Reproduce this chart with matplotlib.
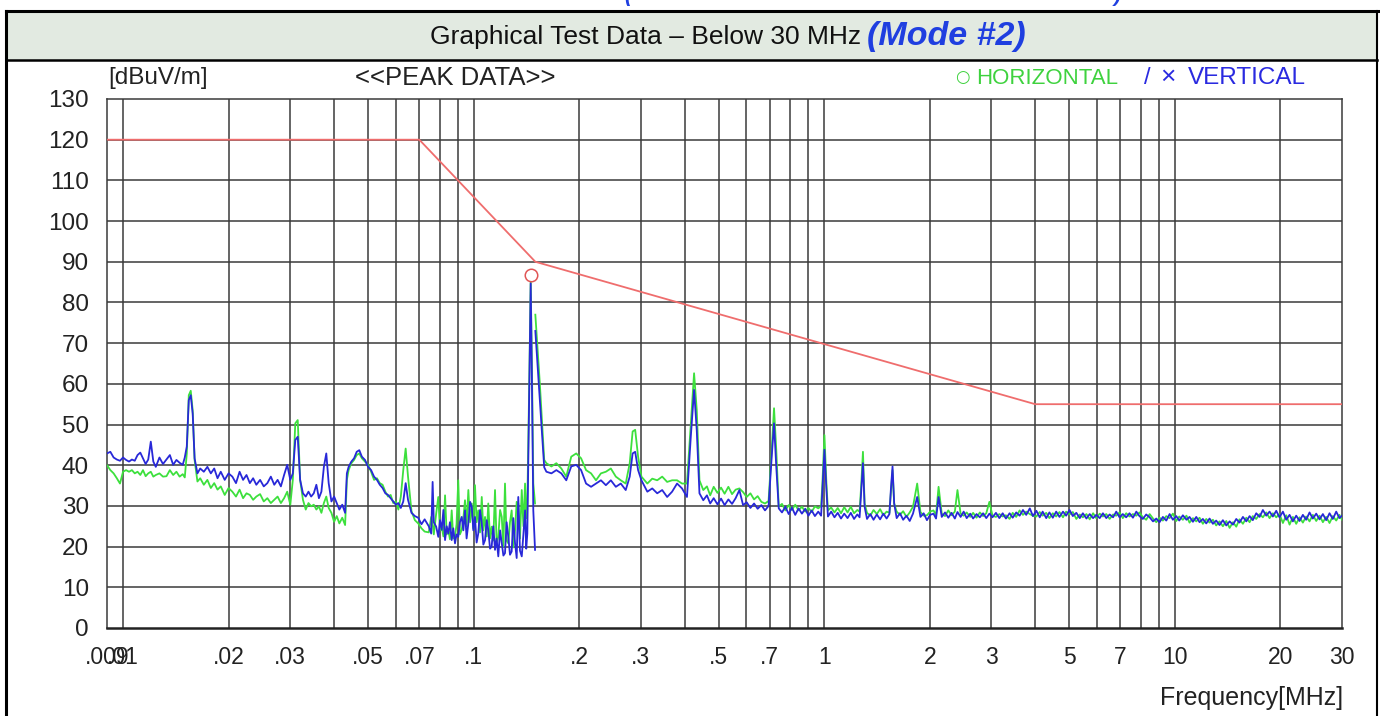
import matplotlib
matplotlib.use('Agg')
from matplotlib import pyplot as plt
from matplotlib.lines import Line2D
from matplotlib.patches import Rectangle

# ---- data (frequency in MHz, level in dBuV/m) ----

# band 9 kHz - 150 kHz
band_a_mhz = [0.0090, 0.0092, 0.0094, 0.0096, 0.0098, 0.0100, 0.0102, 0.0104, 0.0106, 0.0108,
              0.0110, 0.0112, 0.0114, 0.0116, 0.0118, 0.0120, 0.0122, 0.0124, 0.0127, 0.0130,
              0.0133, 0.0136, 0.0139, 0.0142, 0.0145, 0.0148, 0.0150, 0.0152, 0.0154, 0.0156,
              0.0158, 0.0160, 0.0163, 0.0166, 0.0170, 0.0174, 0.0178, 0.0182, 0.0186, 0.0190,
              0.0195, 0.0200, 0.0205, 0.0210, 0.0215, 0.0220, 0.0225, 0.0230, 0.0235, 0.0240,
              0.0246, 0.0252, 0.0258, 0.0264, 0.0270, 0.0276, 0.0282, 0.0288, 0.0294, 0.0300,
              0.0305, 0.0310, 0.0315, 0.0320, 0.0326, 0.0332, 0.0338, 0.0344, 0.0350, 0.0356,
              0.0362, 0.0368, 0.0374, 0.0380, 0.0386, 0.0393, 0.0400, 0.0407, 0.0414, 0.0422,
              0.0430, 0.0435, 0.0440, 0.0448, 0.0456, 0.0464, 0.0472, 0.0480, 0.0490, 0.0500,
              0.0510, 0.0520, 0.0530, 0.0540, 0.0550, 0.0560, 0.0570, 0.0580, 0.0590, 0.0600,
              0.0610, 0.0620, 0.0630, 0.0640, 0.0650, 0.0665, 0.0680, 0.0695, 0.0710, 0.0725,
              0.0745, 0.0757, 0.0764, 0.0770, 0.0782, 0.0793, 0.0802, 0.0811, 0.0820, 0.0829,
              0.0838, 0.0847, 0.0856, 0.0866, 0.0875, 0.0885, 0.0894, 0.0904, 0.0914, 0.0925,
              0.0935, 0.0945, 0.0955, 0.0966, 0.0977, 0.0988, 0.0998, 0.1009, 0.1020, 0.1031,
              0.1043, 0.1055, 0.1066, 0.1078, 0.1090, 0.1101, 0.1114, 0.1126, 0.1138, 0.1151,
              0.1163, 0.1176, 0.1190, 0.1203, 0.1216, 0.1229, 0.1242, 0.1256, 0.1270, 0.1284,
              0.1298, 0.1313, 0.1327, 0.1341, 0.1356, 0.1372, 0.1387, 0.1402, 0.1413, 0.1423,
              0.1442, 0.1455, 0.1467, 0.1480, 0.1497]
band_a_horiz = [40.0, 38.8, 38.0, 36.8, 35.5, 38.4, 38.8, 38.4, 38.8, 38.0,
                38.4, 37.6, 38.8, 37.3, 38.0, 38.4, 37.2, 37.6, 38.0, 37.2,
                37.3, 38.8, 37.6, 38.4, 37.2, 37.8, 37.0, 42.9, 57.2, 58.3,
                53.5, 41.3, 36.0, 36.8, 35.2, 36.4, 34.4, 35.6, 34.0, 34.8,
                32.7, 34.4, 33.5, 32.3, 34.0, 31.9, 33.1, 32.7, 31.5, 32.3,
                32.9, 31.1, 31.9, 30.7, 31.5, 32.3, 30.7, 31.9, 33.5, 30.3,
                36.4, 50.3, 51.1, 36.4, 31.5, 29.1, 30.7, 29.9, 30.3, 29.1,
                29.9, 28.3, 30.7, 32.3, 29.5, 28.3, 26.1, 27.5, 25.7, 27.1,
                25.3, 36.4, 38.8, 40.5, 41.3, 42.5, 42.9, 41.7, 40.9, 40.1,
                38.4, 36.4, 36.8, 35.6, 35.2, 33.5, 32.3, 32.7, 30.7, 31.1,
                29.1, 32.3, 38.8, 44.1, 37.2, 28.7, 26.5, 25.7, 24.5, 23.7,
                23.5, 27.3, 25.7, 23.0, 28.1, 32.2, 24.0, 24.9, 22.5, 32.6,
                23.0, 24.1, 21.8, 28.9, 22.0, 22.4, 25.5, 36.3, 23.0, 24.1,
                27.0, 31.4, 25.0, 33.9, 26.0, 30.6, 24.5, 35.1, 26.0, 28.9,
                23.5, 32.2, 24.0, 27.3, 22.5, 30.6, 22.0, 24.9, 21.5, 33.9,
                21.0, 22.4, 29.0, 27.3, 20.0, 35.5, 21.5, 20.8, 26.0, 28.9,
                19.8, 24.1, 31.0, 30.6, 22.0, 33.9, 25.0, 35.5, 27.0, 30.6,
                61.6, 85.1, 64.0, 35.5, 30.6]
band_a_vert = [42.9, 43.3, 41.9, 41.4, 41.1, 41.9, 41.3, 40.9, 41.4, 41.1,
               42.5, 43.1, 41.7, 40.3, 41.4, 45.8, 40.9, 39.6, 41.9, 40.3,
               41.4, 42.5, 40.1, 41.3, 40.6, 40.1, 41.9, 44.6, 56.0, 57.2,
               52.7, 41.7, 38.0, 39.2, 38.4, 39.6, 38.0, 39.2, 36.8, 38.4,
               36.4, 38.0, 37.2, 35.6, 38.4, 36.4, 37.6, 35.6, 36.8, 35.2,
               36.4, 34.8, 35.6, 37.2, 35.2, 36.4, 34.8, 37.6, 40.1, 36.4,
               38.0, 46.2, 47.0, 36.4, 33.1, 32.3, 33.5, 32.3, 33.1, 35.2,
               31.9, 33.5, 39.6, 42.9, 35.6, 31.1, 32.3, 30.7, 29.1, 30.3,
               28.3, 38.0, 39.6, 40.9, 41.7, 43.3, 43.7, 42.1, 41.3, 39.6,
               38.8, 37.2, 36.4, 35.2, 34.4, 33.1, 32.7, 31.9, 31.1, 30.3,
               30.7, 29.5, 31.1, 35.6, 31.5, 28.3, 27.5, 27.1, 25.5, 26.7,
               25.0, 23.2, 35.9, 26.0, 24.9, 22.4, 26.5, 24.1, 29.0, 21.6,
               25.0, 23.2, 26.0, 21.6, 24.5, 20.8, 23.0, 22.4, 26.0, 27.3,
               24.0, 28.9, 22.0, 25.7, 31.0, 29.8, 24.0, 27.3, 21.0, 23.2,
               29.0, 25.7, 20.5, 21.6, 26.5, 24.1, 19.5, 20.0, 25.0, 19.2,
               22.0, 17.6, 24.0, 20.8, 17.8, 18.4, 26.0, 22.4, 18.0, 18.8,
               27.0, 20.8, 17.2, 32.2, 19.0, 17.6, 23.0, 28.9, 19.5, 23.2,
               60.0, 84.7, 60.0, 28.9, 19.2]

# band 150 kHz - 30 MHz
band_b_mhz = [0.1500, 0.1545, 0.1590, 0.1613, 0.1667, 0.1722, 0.1779, 0.1838, 0.1899, 0.1962,
              0.2026, 0.2093, 0.2163, 0.2234, 0.2308, 0.2384, 0.2463, 0.2545, 0.2629, 0.2716,
              0.2788, 0.2842, 0.2890, 0.2946, 0.3011, 0.3130, 0.3233, 0.3340, 0.3451, 0.3565,
              0.3683, 0.3805, 0.3931, 0.4061, 0.4165, 0.4255, 0.4330, 0.4408, 0.452, 0.463,
              0.473, 0.484, 0.496, 0.508, 0.520, 0.533, 0.546, 0.559, 0.573, 0.587,
              0.601, 0.616, 0.631, 0.646, 0.662, 0.678, 0.694, 0.7085, 0.7194, 0.7300,
              0.742, 0.758, 0.775, 0.792, 0.809, 0.827, 0.845, 0.864, 0.883, 0.902,
              0.921, 0.941, 0.962, 0.980, 0.9884, 1.0017, 1.0149, 1.025, 1.047, 1.070,
              1.093, 1.117, 1.141, 1.166, 1.191, 1.217, 1.243, 1.262, 1.2762, 1.2901,
              1.3043, 1.325, 1.354, 1.383, 1.413, 1.444, 1.475, 1.507, 1.535, 1.5495,
              1.5667, 1.5838, 1.61, 1.645, 1.68, 1.717, 1.754, 1.792, 1.8422, 1.882,
              1.922, 1.964, 2.006, 2.05, 2.085, 2.12, 2.165, 2.212, 2.26, 2.309,
              2.359, 2.40, 2.45, 2.50, 2.55, 2.61, 2.66, 2.72, 2.78, 2.84,
              2.90, 2.96, 3.02, 3.09, 3.16, 3.23, 3.30, 3.38, 3.45, 3.53,
              3.61, 3.69, 3.77, 3.86, 3.94, 4.03, 4.12, 4.20, 4.30, 4.39,
              4.49, 4.59, 4.69, 4.80, 4.90, 5.01, 5.12, 5.24, 5.36, 5.47,
              5.60, 5.72, 5.85, 5.97, 6.11, 6.24, 6.38, 6.52, 6.67, 6.81,
              6.96, 7.11, 7.27, 7.43, 7.60, 7.77, 7.93, 8.11, 8.29, 8.48,
              8.67, 8.86, 9.05, 9.25, 9.46, 9.67, 9.88, 10.1, 10.3, 10.55,
              10.8, 11.02, 11.27, 11.52, 11.77, 12.03, 12.3, 12.57, 12.85, 13.13,
              13.42, 13.72, 14.03, 14.34, 14.66, 14.98, 15.3, 15.65, 16.0, 16.35,
              16.7, 17.08, 17.46, 17.84, 18.24, 18.64, 19.05, 19.48, 19.9, 20.35,
              20.8, 21.26, 21.73, 22.21, 22.7, 23.2, 23.71, 24.24, 24.77, 25.33,
              25.89, 26.46, 27.04, 27.64, 28.25, 28.88, 29.5, 30.0]
band_b_horiz = [77.0, 60.0, 41.3, 40.5, 39.7, 40.5, 39.2, 37.2, 42.1, 42.9,
                41.7, 38.8, 38.0, 36.3, 38.0, 38.4, 39.2, 37.2, 36.3, 35.5,
                40.5, 48.3, 48.7, 42.1, 37.2, 35.5, 36.7, 36.3, 37.2, 35.9,
                36.3, 36.3, 35.5, 35.5, 50.3, 62.6, 53.6, 36.3, 33.9, 34.8,
                32.6, 34.7, 33.2, 34.5, 33.0, 34.7, 32.9, 34.0, 34.3, 33.4,
                32.2, 33.1, 31.6, 32.4, 31.0, 30.6, 31.2, 43.8, 54.0, 43.8,
                29.8, 30.5, 28.9, 30.2, 29.0, 30.3, 28.9, 29.8, 28.6, 29.5,
                28.5, 29.9, 29.4, 30.0, 35.5, 47.4, 35.5, 28.9, 29.6, 28.4,
                29.5, 28.2, 29.7, 28.4, 29.8, 28.2, 29.0, 28.6, 35.5, 43.3,
                30.6, 28.3, 27.6, 29.0, 28.0, 29.2, 27.7, 28.6, 28.3, 33.1,
                38.8, 30.6, 28.6, 27.8, 28.7, 27.3, 28.4, 29.8, 35.5, 28.5,
                27.6, 27.7, 28.6, 28.9, 27.8, 34.7, 28.1, 27.5, 28.9, 27.7,
                28.6, 33.9, 28.1, 27.6, 28.4, 27.3, 28.3, 27.1, 28.4, 27.5,
                28.2, 31.0, 27.6, 27.3, 28.0, 27.4, 27.7, 26.8, 28.3, 27.3,
                28.9, 27.8, 28.6, 28.0, 27.6, 27.4, 28.5, 27.6, 28.3, 27.0,
                28.2, 27.4, 28.5, 27.2, 28.6, 27.9, 28.5, 26.8, 27.9, 27.2,
                28.0, 26.7, 28.2, 27.0, 28.1, 27.4, 28.0, 26.8, 27.9, 27.6,
                28.4, 27.0, 28.2, 27.4, 28.0, 27.6, 28.4, 27.2, 26.6, 28.0,
                26.9, 26.0, 27.1, 26.4, 27.5, 27.0, 28.1, 26.3, 27.4, 26.6,
                27.6, 25.9, 27.0, 26.2, 27.1, 25.6, 26.8, 25.9, 26.6, 25.2,
                26.2, 25.0, 26.3, 24.6, 26.0, 24.9, 26.7, 25.6, 27.1, 26.0,
                27.5, 26.8, 28.0, 27.2, 28.4, 27.0, 28.2, 27.2, 28.0, 25.8,
                27.7, 25.4, 27.3, 25.6, 27.2, 25.9, 27.4, 26.2, 27.8, 26.3,
                27.6, 26.0, 27.3, 25.8, 27.5, 26.4, 27.8, 26.6]
band_b_vert = [73.0, 56.0, 39.5, 38.4, 38.0, 38.8, 38.0, 36.3, 39.7, 40.1,
               38.8, 35.5, 34.7, 35.5, 36.3, 35.1, 36.3, 34.7, 35.5, 33.9,
               37.2, 42.9, 43.3, 38.8, 36.3, 33.5, 34.3, 33.1, 33.9, 32.2,
               33.5, 35.5, 34.3, 32.2, 47.1, 58.5, 48.7, 33.1, 31.4, 32.6,
               30.6, 31.9, 30.4, 31.8, 30.2, 31.6, 30.5, 31.9, 33.9, 30.2,
               30.9, 29.5, 30.6, 29.3, 30.2, 28.9, 30.0, 42.1, 50.3, 39.7,
               29.4, 28.4, 29.8, 28.0, 29.6, 27.8, 29.4, 28.1, 29.3, 27.6,
               28.9, 27.5, 28.6, 27.6, 33.9, 43.8, 33.9, 27.4, 28.6, 27.2,
               28.3, 26.9, 28.1, 27.0, 28.3, 26.8, 27.9, 27.2, 33.9, 40.5,
               29.8, 26.8, 28.0, 26.6, 27.9, 26.7, 28.1, 26.9, 28.0, 33.9,
               39.7, 30.6, 27.0, 28.2, 26.6, 27.6, 26.3, 28.1, 32.2, 27.3,
               28.2, 26.5, 27.8, 28.1, 26.9, 32.2, 27.3, 28.4, 27.1, 28.3,
               26.9, 28.5, 27.3, 28.6, 27.0, 28.1, 26.9, 28.0, 27.2, 28.2,
               27.0, 28.1, 27.2, 28.3, 27.0, 28.2, 26.9, 28.2, 27.1, 28.4,
               27.6, 29.0, 27.8, 29.4, 27.5, 28.8, 27.2, 28.6, 27.0, 28.4,
               27.1, 28.6, 27.3, 28.6, 27.6, 29.0, 27.5, 28.3, 27.0, 28.2,
               26.9, 28.0, 27.0, 27.8, 27.0, 28.2, 27.0, 27.9, 27.2, 28.6,
               27.2, 28.0, 27.2, 28.2, 27.1, 28.6, 27.5, 26.8, 27.9, 27.2,
               26.2, 26.9, 26.0, 27.3, 26.4, 28.0, 26.6, 27.5, 26.4, 27.7,
               26.6, 27.3, 26.1, 27.3, 26.0, 26.8, 25.7, 26.9, 25.6, 26.4,
               25.3, 26.5, 25.2, 26.2, 25.4, 26.8, 25.9, 27.3, 26.2, 27.5,
               26.5, 28.2, 27.3, 29.0, 27.6, 28.6, 27.4, 28.8, 27.2, 28.6,
               26.6, 27.8, 26.2, 27.6, 26.3, 27.8, 26.6, 28.4, 26.9, 28.1,
               26.7, 28.0, 26.5, 28.2, 26.8, 28.6, 27.0, 27.6]

# limit line and marked peak
limit_mhz = [0.009, 0.07, 0.15, 4.0, 30.0]
limit_dbuv = [120, 120, 90, 55, 55]
peak_mhz = [0.1455]
peak_dbuv = [86.7]

tick_mhz = [0.009, 0.01, 0.02, 0.03, 0.05, 0.07, 0.1, 0.2, 0.3, 0.5, 0.7,
            1, 2, 3, 5, 7, 10, 20, 30]
tick_labels = ['.009', '.01', '.02', '.03', '.05', '.07', '.1', '.2', '.3', '.5', '.7',
               '1', '2', '3', '5', '7', '10', '20', '30']

# ---- style ----
W, H = 1380, 716
font = 'Liberation Sans'
grid_col = '#3a3a3a'
green = '#3de03d'
blue = '#2828d8'
red = '#ef6d6d'
mode_blue = '#1f3fe0'

plt.rcParams['font.family'] = [font, 'DejaVu Sans']

fig = plt.figure(figsize=(W / 100., H / 100.), dpi=100)
fig.patch.set_facecolor('white')

def fx(px):
	return px / float(W)

def fy(py):
	return 1 - py / float(H)

# table frame + header row
fig.patches.append(Rectangle((fx(6), fy(60)), fx(1377) - fx(6), fy(11) - fy(60),
                             transform=fig.transFigure, facecolor='#e2eae1', edgecolor='none', zorder=0))
for xs, ys, lw in [((6, 1378), (11, 11), 2.2),
                   ((6, 6), (11, 716), 2.2),
                   ((1377, 1377), (11, 716), 1.5),
                   ((6, 1377), (60, 60), 1.8)]:
	fig.lines.append(Line2D([fx(x) for x in xs], [fy(y) for y in ys], transform=fig.transFigure,
	                        color='black', linewidth=lw))

fig.text(fx(861), fy(37), 'Graphical Test Data \u2013 Below 30 MHz', ha='right', va='center',
         fontsize=19, color='#111111')
fig.text(fx(867), fy(36), '(Mode #2)', ha='left', va='center', fontsize=24.5,
         fontweight='bold', fontstyle='italic', color=mode_blue)
# tail of the line above the table, cut by the page edge (as in the reference)
fig.text(fx(628), fy(-4), '(', ha='center', va='center', fontsize=15,
         fontweight='bold', fontstyle='italic', color=mode_blue)
fig.text(fx(1117), fy(-4), ')', ha='center', va='center', fontsize=15,
         fontweight='bold', fontstyle='italic', color=mode_blue)

# ---- plot ----
ax = fig.add_axes([fx(107), fy(628), fx(1342) - fx(107), fy(99) - fy(628)])
ax.set_xscale('log')
ax.set_xlim(0.009, 30)
ax.set_ylim(0, 130)

grid_mhz = [m * 10.0 ** e for e in (-2, -1, 0) for m in range(1, 10)] + [10, 20]
for g in grid_mhz:
	ax.axvline(g, color=grid_col, linewidth=1.1, zorder=1)
for lvl in range(10, 130, 10):
	ax.axhline(lvl, color=grid_col, linewidth=1.1, zorder=1)

ax.plot(limit_mhz, limit_dbuv, color=red, linewidth=1.3, zorder=3)
ax.plot(band_a_mhz, band_a_horiz, color=green, linewidth=1.3, zorder=4)
ax.plot(band_b_mhz, band_b_horiz, color=green, linewidth=1.3, zorder=4)
ax.plot(band_a_mhz, band_a_vert, color=blue, linewidth=1.3, zorder=5)
ax.plot(band_b_mhz, band_b_vert, color=blue, linewidth=1.3, zorder=5)
ax.plot(peak_mhz, peak_dbuv, linestyle='none', marker='o', markersize=9,
        markerfacecolor='none', markeredgecolor='#e05555', markeredgewidth=1.1, zorder=6)

for side in ['left', 'right', 'top']:
	ax.spines[side].set_color(grid_col)
	ax.spines[side].set_linewidth(1.1)
ax.spines['bottom'].set_color('#222222')
ax.spines['bottom'].set_linewidth(1.8)

ax.set_yticks(range(0, 131, 10))
ax.set_xticks(tick_mhz, tick_labels)
ax.xaxis.set_minor_locator(matplotlib.ticker.NullLocator())
ax.tick_params(axis='y', length=0, pad=13, labelsize=17.5, labelcolor='#222222')
ax.tick_params(axis='x', length=0, pad=13, labelsize=16.5, labelcolor='#222222')

# labels around the plot
fig.text(fx(108), fy(78), '[dBuV/m]', ha='left', va='center', fontsize=17.5, color='#222222')
fig.text(fx(355), fy(78), '<<PEAK DATA>>', ha='left', va='center', fontsize=18.5, color='#222222')
fig.text(fx(962), fy(77), '\u25cb', ha='center', va='center', fontsize=12,
         family=['DejaVu Sans'], color='#3ed23e')
fig.text(fx(976), fy(78), 'HORIZONTAL', ha='left', va='center', fontsize=16, color='#3ed23e')
fig.text(fx(1147), fy(78), '/', ha='center', va='center', fontsize=17, color='#2a2ae0')
fig.text(fx(1168), fy(77), '\u00d7', ha='center', va='center', fontsize=19, color='#2a2ae0')
fig.text(fx(1188), fy(78), 'VERTICAL', ha='left', va='center', fontsize=17.5, color='#2a2ae0')
fig.text(fx(1343), fy(698), 'Frequency[MHz]', ha='right', va='center', fontsize=18, color='#222222')

fig.savefig('out.png', dpi=100)
